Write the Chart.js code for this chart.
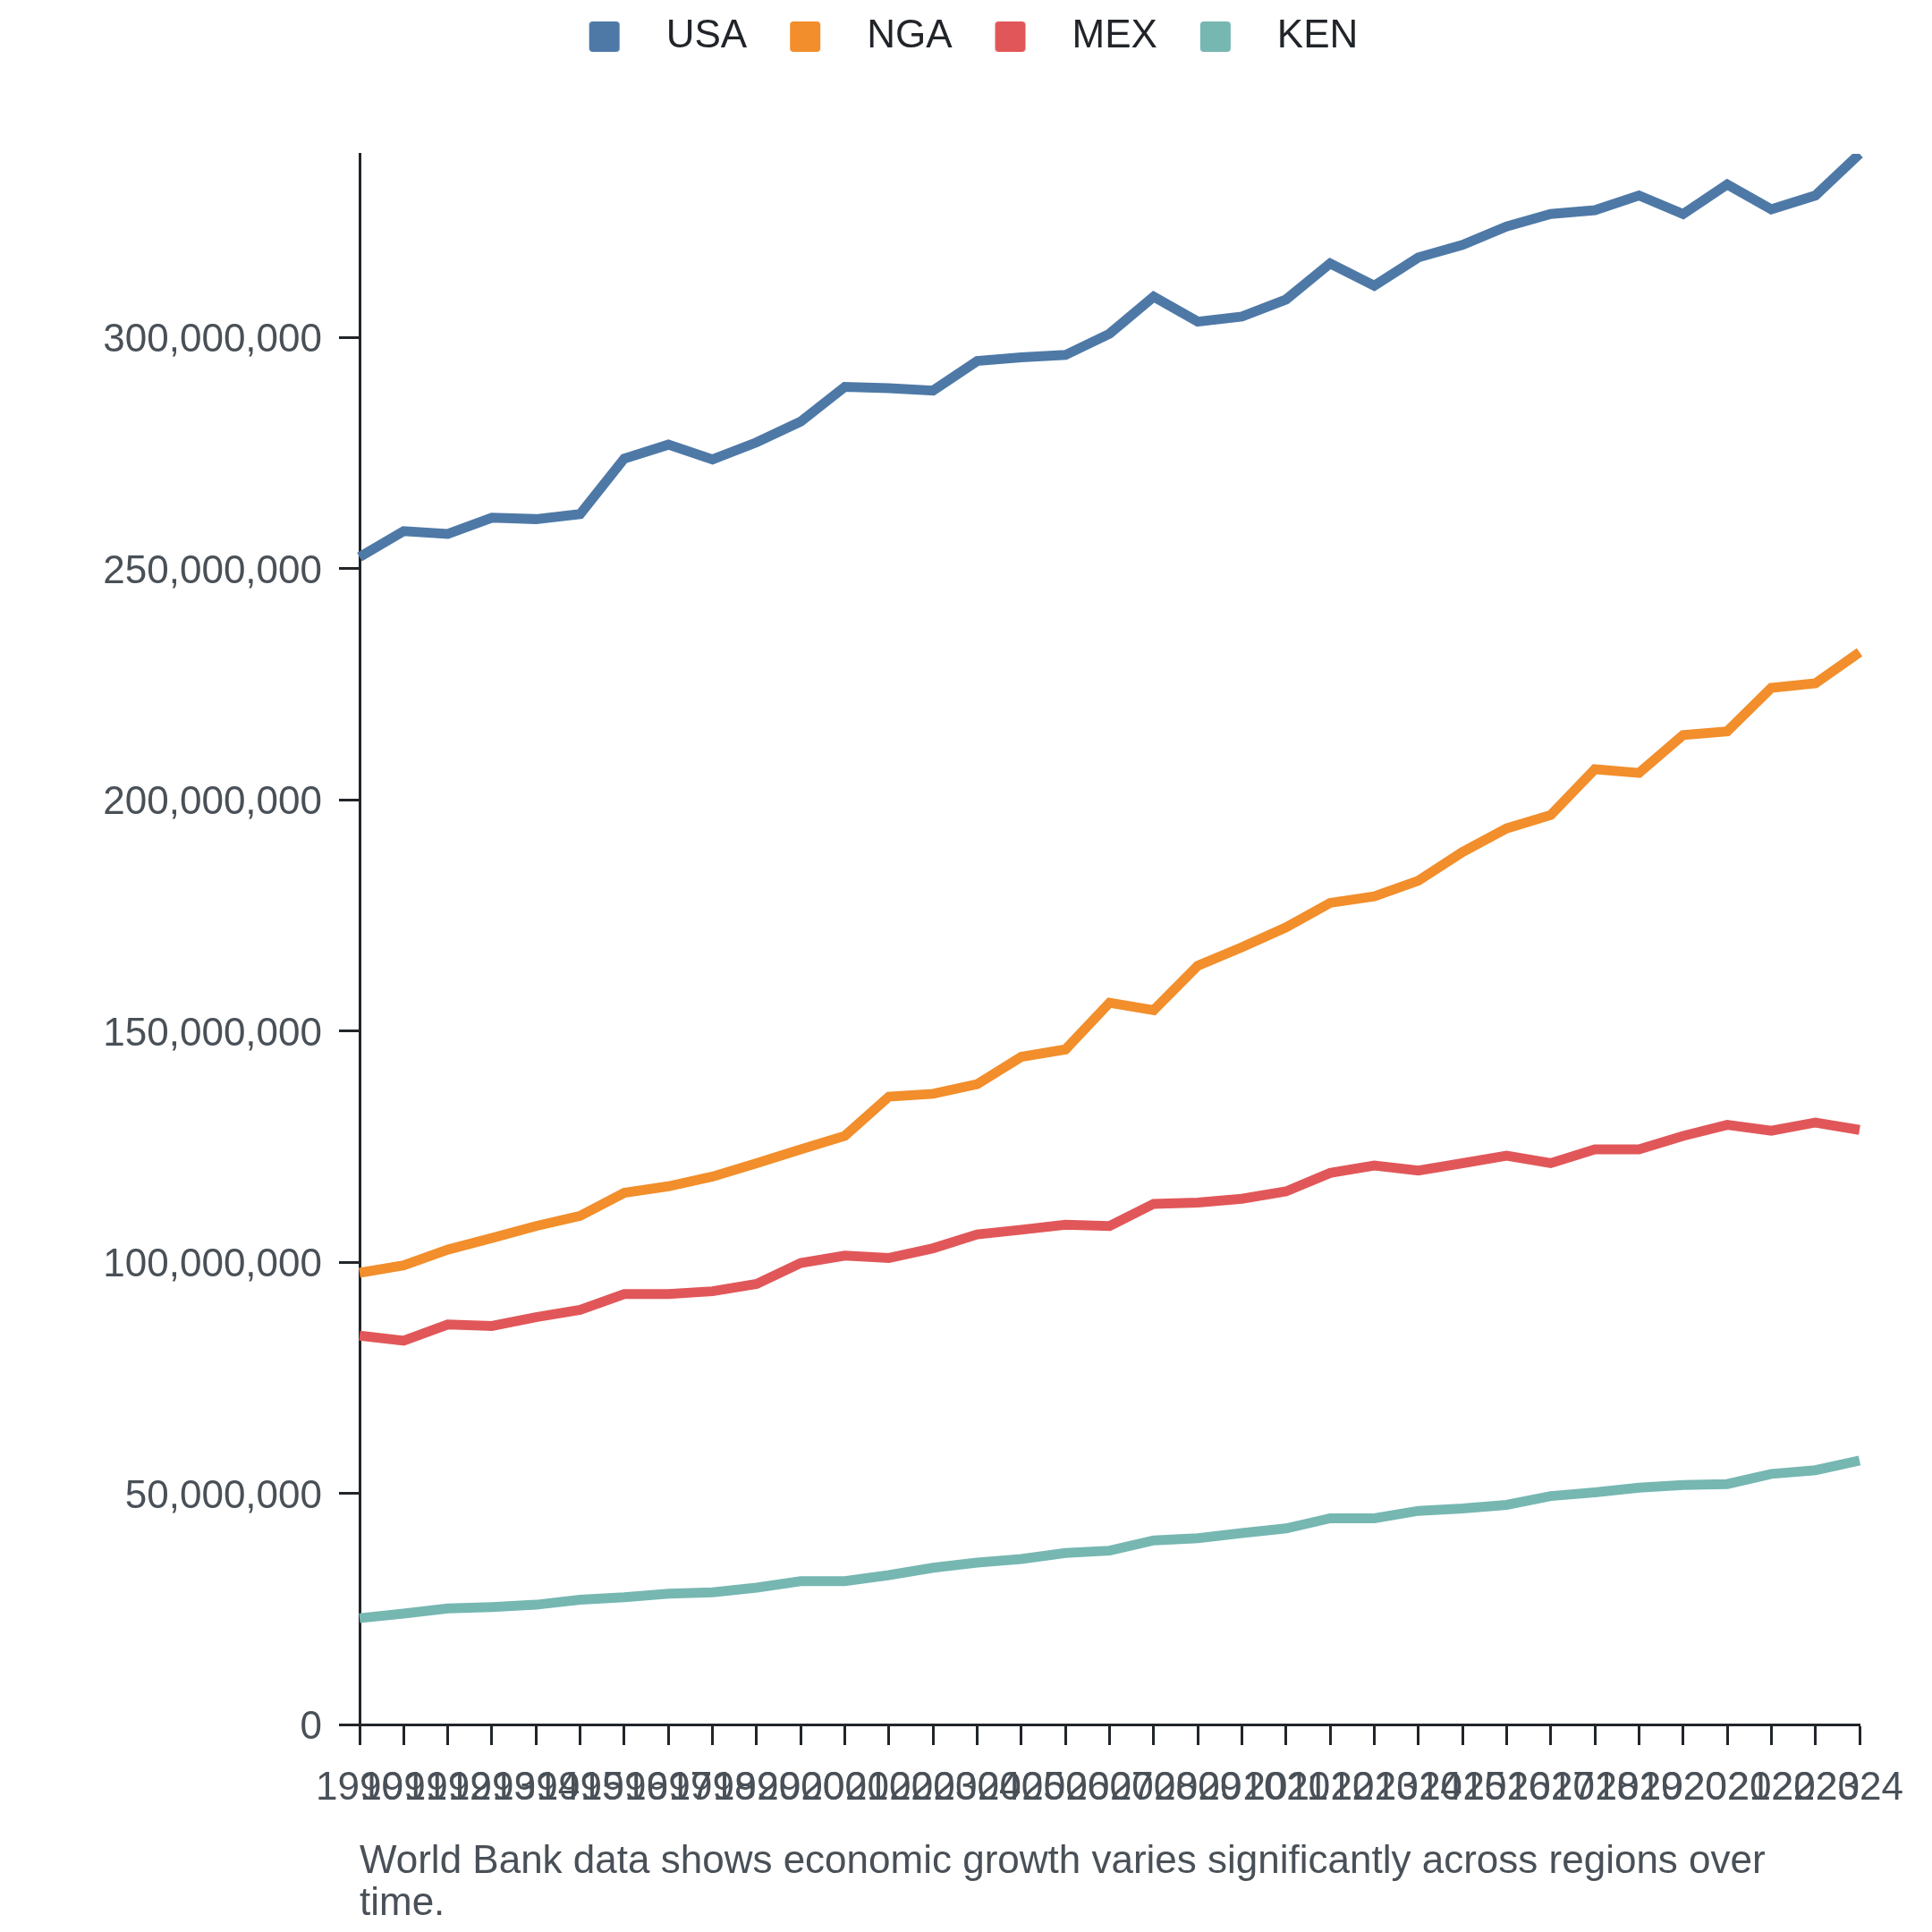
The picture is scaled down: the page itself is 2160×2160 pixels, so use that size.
<!DOCTYPE html>
<html>
<head>
<meta charset="utf-8">
<script src="https://cdn.jsdelivr.net/npm/chart.js@4"></script>
<style>
  html, body { margin: 0; padding: 0; background: #fff; }
  canvas { display: block; }
</style>
</head>
<body>
<canvas id="chart" width="2160" height="2160"></canvas>
<script>
// years on the x axis
const years = [
  '1990', '1991', '1992', '1993', '1994', '1995', '1996', '1997', '1998', '1999',
  '2000', '2001', '2002', '2003', '2004', '2005', '2006', '2007', '2008', '2009',
  '2010', '2011', '2012', '2013', '2014', '2015', '2016', '2017', '2018', '2019',
  '2020', '2021', '2022', '2023', '2024'
];

// values
const usa = [
  252500000, 258100000, 257500000, 261000000, 260700000, 261800000, 273800000, 276800000, 273600000, 277300000,
  281800000, 289300000, 289000000, 288500000, 294900000, 295700000, 296200000, 300800000, 308800000, 303400000,
  304500000, 308200000, 316000000, 311200000, 317300000, 320000000, 324000000, 326700000, 327500000, 330700000,
  326700000, 333100000, 327700000, 330700000, 339700000
];
const nga = [
  97700000, 99300000, 102700000, 105200000, 107800000, 110000000, 115000000, 116400000, 118500000, 121400000,
  124400000, 127300000, 135800000, 136400000, 138500000, 144400000, 146000000, 156100000, 154500000, 164100000,
  168100000, 172400000, 177700000, 179100000, 182500000, 188700000, 193800000, 196700000, 206600000, 205800000,
  214000000, 214800000, 224200000, 225200000, 231900000
];
const mex = [
  84100000, 83000000, 86500000, 86200000, 88100000, 89700000, 93100000, 93100000, 93700000, 95300000,
  99800000, 101400000, 100900000, 103000000, 106000000, 107000000, 108100000, 107800000, 112600000, 112900000,
  113700000, 115300000, 119300000, 120900000, 119800000, 121400000, 123000000, 121400000, 124400000, 124400000,
  127300000, 129700000, 128400000, 130200000, 128600000
];
const ken = [
  23000000, 24000000, 25100000, 25400000, 25900000, 27000000, 27500000, 28300000, 28600000, 29600000,
  31000000, 31000000, 32300000, 33900000, 35000000, 35800000, 37100000, 37600000, 39800000, 40300000,
  41400000, 42400000, 44600000, 44600000, 46200000, 46700000, 47500000, 49400000, 50200000, 51200000,
  51800000, 52000000, 54200000, 55000000, 57100000
];

const yTicks = [0, 50000000, 100000000, 150000000, 200000000, 250000000, 300000000];

const seriesNames = ['USA', 'NGA', 'MEX', 'KEN'];
const seriesColors = ['#4e79a7', '#f28e2b', '#e15759', '#76b7b2'];
const captionLines = [
  'World Bank data shows economic growth varies significantly across regions over',
  'time.'
];

const FONT = "'Liberation Sans', Arial, sans-serif";
const AXIS_COLOR = '#212529';
const TEXT_COLOR = '#495057';

// legend swatch: rounded square with some room on its left
function swatch(color) {
  const c = document.createElement('canvas');
  c.width = 102;
  c.height = 34;
  const g = c.getContext('2d');
  g.fillStyle = color;
  g.beginPath();
  g.roundRect(38, 0, 34, 34, 4);
  g.fill();
  return c;
}

// pushes the plot down below the legend
const legendSpacer = {
  id: 'legendSpacer',
  beforeLayout(chart) {
    const lg = chart.legend;
    if (lg && !lg._spaced) {
      const fit = lg.fit;
      lg.fit = function () {
        fit.call(this);
        this.height = 163;
      };
      lg._spaced = true;
    }
  }
};

const allValues = usa.concat(nga, mex, ken);
const yMax = Math.max(...allValues);

const datasets = [usa, nga, mex, ken].map((vals, i) => ({
  label: seriesNames[i],
  data: vals,
  borderColor: seriesColors[i],
  backgroundColor: seriesColors[i],
  borderWidth: 11,
  pointRadius: 0,
  pointHoverRadius: 0,
  pointStyle: swatch(seriesColors[i]),
  tension: 0,
  fill: false
}));

const PAD_LEFT = 60;

new Chart(document.getElementById('chart'), {
  type: 'line',
  data: { labels: years, datasets },
  plugins: [legendSpacer],
  options: {
    responsive: false,
    animation: false,
    devicePixelRatio: 1,
    layout: { padding: { top: 9, right: 81, bottom: 0, left: PAD_LEFT } },
    plugins: {
      legend: {
        position: 'top',
        labels: {
          usePointStyle: true,
          pointStyleWidth: 102,
          padding: 10,
          color: AXIS_COLOR,
          font: { family: FONT, size: 44 }
        }
      },
      title: {
        display: true,
        position: 'bottom',
        align: 'start',
        fullSize: false,
        text: captionLines,
        color: TEXT_COLOR,
        font: { family: FONT, size: 44, weight: 'normal', lineHeight: 47 / 44 },
        padding: { top: 38, bottom: 8 }
      },
      tooltip: { enabled: false }
    },
    scales: {
      x: {
        afterFit(scale) { scale.height = 92; },
        grid: {
          display: true,
          drawOnChartArea: false,
          drawTicks: true,
          tickLength: 23,
          tickWidth: 3,
          tickColor: AXIS_COLOR
        },
        border: { display: true, width: 3, color: AXIS_COLOR },
        ticks: {
          autoSkip: false,
          maxRotation: 0,
          minRotation: 0,
          padding: 22,
          color: TEXT_COLOR,
          font: { family: FONT, size: 44 }
        }
      },
      y: {
        min: 0,
        max: yMax,
        afterFit(scale) { scale.width = 402 - PAD_LEFT; },
        afterBuildTicks(scale) { scale.ticks = yTicks.map(v => ({ value: v })); },
        grid: {
          display: true,
          drawOnChartArea: false,
          drawTicks: true,
          tickLength: 23,
          tickWidth: 3,
          tickColor: AXIS_COLOR
        },
        border: { display: true, width: 3, color: AXIS_COLOR },
        ticks: {
          padding: 19,
          labelOffset: 4,
          color: TEXT_COLOR,
          font: { family: FONT, size: 44 },
          callback: v => v.toLocaleString('en-US')
        }
      }
    }
  }
});
</script>
</body>
</html>
